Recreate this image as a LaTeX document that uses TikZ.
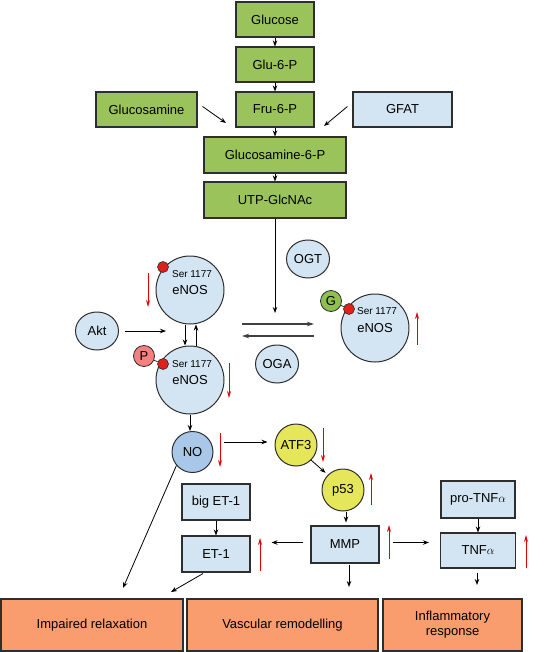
\documentclass[tikz,border=0pt]{standalone}
\usepackage{fontspec}
\setmainfont{Liberation Sans}
\usepackage{tikz}
\usetikzlibrary{arrows.meta, shapes.geometric, calc}

\definecolor{glugreen}{HTML}{9BC35B}
\definecolor{paleblue}{HTML}{D3E5F3}
\definecolor{noblue}{HTML}{A9C7E9}
\definecolor{outorange}{HTML}{F99D6E}
\definecolor{atfyellow}{HTML}{E6E65A}
\definecolor{ppink}{HTML}{F58080}
\definecolor{ggreen}{HTML}{8DC04E}
\definecolor{dotred}{HTML}{E0201A}
\definecolor{edge}{HTML}{2E2E2E}

\begin{document}
\begin{tikzpicture}[
    x=1pt, y=-1pt,
    every node/.style={font=\fontsize{13}{15}\selectfont},
    box/.style={rectangle, draw=edge, line width=1.1pt, inner sep=0pt, align=center},
    greenbox/.style={box, fill=glugreen, minimum height=35pt},
    bluebox/.style={box, fill=paleblue, minimum height=36pt},
    outbox/.style={box, fill=outorange, minimum height=52pt},
    enzyme/.style={ellipse, draw=edge, line width=1pt, fill=paleblue, inner sep=0pt, minimum width=43pt, minimum height=38pt},
    enos/.style={circle, draw=edge, line width=1pt, fill=paleblue, inner sep=0pt, minimum size=68pt},
    ball/.style={circle, draw=edge, line width=1pt, inner sep=0pt, minimum size=42pt},
    tag/.style={circle, draw=edge, line width=0.8pt, inner sep=0pt, minimum size=21pt},
    reddot/.style={circle, draw=edge, line width=0.6pt, fill=dotred, inner sep=0pt, minimum size=11pt},
    sertxt/.style={font=\fontsize{10}{12}\selectfont, inner sep=0pt},
    arr/.style={-{Stealth[length=6pt,width=4.5pt]}, line width=0.8pt, black},
    eqarr/.style={-{Stealth[length=7pt,width=4.5pt]}, line width=1.2pt, black!75},
    redarr/.style={-{Stealth[length=7pt,width=4pt]}, line width=0.9pt, red!90!black}
]
\useasboundingbox (0,0) rectangle (555,652);

% hexosamine pathway
\node[greenbox, minimum width=78pt]  (glucose) at (275,19.5)  {Glucose};
\node[greenbox, minimum width=78pt]  (glu6p)   at (275,64.5)  {Glu-6-P};
\node[greenbox, minimum width=78pt]  (fru6p)   at (275,109.5) {Fru-6-P};
\node[greenbox, minimum width=101pt] (gluam)   at (146.5,109.5) {Glucosamine};
\node[bluebox,  minimum width=99pt, minimum height=35pt] (gfat) at (402.5,109.5) {GFAT};
\node[greenbox, minimum width=142pt, minimum height=36pt] (gam6p) at (275,155) {Glucosamine-6-P};
\node[greenbox, minimum width=142pt, minimum height=36pt] (utp)   at (275,200) {UTP-GlcNAc};

\draw[arr] (glucose) -- (glu6p);
\draw[arr] (glu6p) -- (fru6p);
\draw[arr] (fru6p) -- (gam6p);
\draw[arr] (gam6p) -- (utp);

\coordinate (gluamEnd) at (226,123);
\coordinate (gfatEnd)  at (324,126);
\draw[arr] ([xshift=5pt,yshift=3pt]gluam.east) -- (gluamEnd);
\draw[arr] ([xshift=-5pt,yshift=3pt]gfat.west) -- (gfatEnd);

% eNOS states
\node[enos] (enosA) at (190,290) {eNOS};
\node[enos] (enosB) at (190,380) {eNOS};
\node[enos] (enosC) at (375,328) {eNOS};
\node[sertxt] (serA) at ([xshift=2pt,yshift=16pt]enosA.center) {Ser 1177};
\node[sertxt] (serB) at ([xshift=2pt,yshift=16pt]enosB.center) {Ser 1177};
\node[sertxt] (serC) at ([xshift=2pt,yshift=17pt]enosC.center) {Ser 1177};

\node[tag, fill=ppink]  (pP) at (144,356) {P};
\node[tag, fill=ggreen] (gG) at (331,301) {G};
\node[reddot] (dotA) at (163,267) {};
\node[reddot] (dotB) at (163,364) {};
\node[reddot] (dotC) at (349,309) {};
\draw[line width=0.8pt, edge] (pP) -- (dotB);
\draw[line width=0.8pt, edge] (gG) -- (dotC);

\node[enzyme] (akt) at (97,331) {Akt};
\node[enzyme] (ogt) at (308,259) {OGT};
\node[enzyme] (oga) at (277,364) {OGA};

\coordinate (aktEnd) at (166,331);
\draw[arr] ([xshift=6pt]akt.east) -- (aktEnd);
\draw[arr] ([xshift=-5pt]enosA.south) -- ([xshift=-5pt]enosB.north);
\draw[arr] ([xshift=6pt]enosB.north) -- ([xshift=6pt]enosA.south);

\coordinate (ogtEnd) at (275,313);
\draw[arr] (utp.south) -- (ogtEnd);

\coordinate (fwdA) at (242,324);
\coordinate (fwdB) at (314,324);
\coordinate (bwdA) at (314,336);
\coordinate (bwdB) at (242,336);
\draw[eqarr] (fwdA) -- (fwdB);
\draw[eqarr] (bwdA) -- (bwdB);

% downstream
\node[ball, fill=noblue, minimum size=41pt] (no) at (192.5,452) {NO};
\node[ball, fill=atfyellow] (atf3) at (296,445) {ATF3};
\node[ball, fill=atfyellow] (p53)  at (343,490) {p53};

\node[bluebox, minimum width=68pt] (bigET) at (216,502) {big ET-1};
\node[bluebox, minimum width=68pt] (et1)   at (216,554) {ET-1};
\node[bluebox, minimum width=68pt, minimum height=37pt] (mmp) at (345,544.5) {MMP};
\node[bluebox, minimum width=74pt, minimum height=37pt] (protnf) at (478,499.5) {pro-TNF$\alpha$};
\node[bluebox, minimum width=75pt, minimum height=35pt] (tnf)    at (478,550.5) {TNF$\alpha$};

\node[outbox, minimum width=182pt] (impaired)     at (92,625)    {Impaired relaxation};
\node[outbox, minimum width=191pt] (remodelling)  at (282.5,625) {Vascular remodelling};
\node[outbox, minimum width=139pt] (inflammation) at (452.5,625) {Inflammatory\\response};

\draw[arr] (enosB.south) -- (enosB.south |- no.north);
\draw[arr] ([xshift=10pt,yshift=10pt]no.east) -- ([xshift=-7pt,yshift=3pt]atf3.west);
\draw[arr, shorten >=3pt] (atf3.-45) -- (p53.135);
\draw[arr, shorten >=3pt] ([xshift=3pt]p53.south) -- ([xshift=3pt]p53.south |- mmp.north);
\draw[arr] (bigET) -- (et1);
\draw[arr] (protnf) -- (tnf);
\draw[arr, shorten <=7pt, shorten >=21pt] ([yshift=2pt]mmp.west) -- ([yshift=2pt]mmp.west -| et1.east);
\draw[arr, shorten <=13pt, shorten >=11pt] ([yshift=2pt]mmp.east) -- ([yshift=2pt]mmp.east -| tnf.west);

\coordinate (noEnd)  at (123,588);
\coordinate (etEnd)  at (171,592);
\coordinate (mmpEnd) at (349,587);
\coordinate (tnfEnd) at (477,585);
\draw[arr] (no.220) -- (noEnd);
\draw[arr] ([xshift=-13pt,yshift=-1pt]et1.south) -- (etEnd);
\draw[arr] ([xshift=4pt,yshift=-1pt]mmp.south) -- (mmpEnd);
\draw[arr] ([xshift=-1pt,yshift=-4pt]tnf.south) -- (tnfEnd);

% red up / down markers
\foreach \x/\a/\b in {148/273/307, 229/363/398, 417/345/312, 220/433/467, 323/428/462,
                      371/505/473, 389/559/525, 260/571/538, 526/568/535} {
    \draw[redarr] (\x,\a) -- (\x,\b);
}

\end{tikzpicture}
\end{document}
